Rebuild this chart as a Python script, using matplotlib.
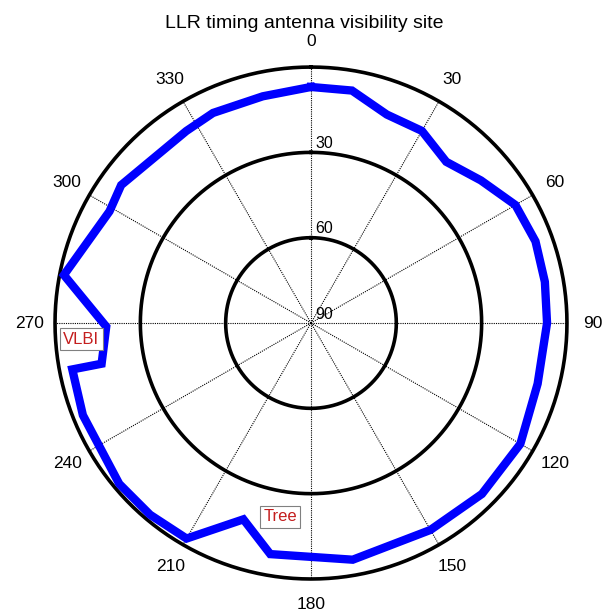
import numpy as np
import matplotlib
matplotlib.use('Agg')
import matplotlib.pyplot as plt

plt.rcParams['font.family'] = ['Liberation Sans', 'DejaVu Sans']

# horizon mask: azimuth (deg, clockwise from north) and elevation (deg)
azimuth = [0, 10, 20, 30, 40, 50, 60, 70, 80, 90, 105, 120, 135, 150, 170,
           190, 199, 210, 220, 230, 248, 259, 259, 269, 281, 299, 306, 327,
           335, 348, 360]
elevation = [7, 7, 12, 12, 16, 12, 7, 6, 6.5, 7, 7.5, 5, 5, 6, 5.5,
             7.5, 17, 2.5, 2, 2, 3.5, 4.5, 15, 18, 1.5, 9, 7.5, 9.5,
             8.5, 8.5, 7]

elev_rings = [30, 60, 90]
elev_ring_labels = ['30', '60', '90']
az_ticks = [0, 30, 60, 90, 120, 150, 180, 210, 240, 270, 300, 330]
title = 'LLR timing antenna visibility site'
notes = [('VLBI', 266, 9), ('Tree', 189, 21)]

fig = plt.figure(figsize=(6.08, 6.15), dpi=100)
ax = fig.add_axes([0.0905, 0.0585, 0.842, 0.8325], projection='polar')
ax.set_theta_zero_location('N')
ax.set_theta_direction(-1)
ax.set_rlim(0, 90)
ax.grid(False)
ax.set_xticks([])
ax.set_yticks([])
ax.spines['polar'].set_visible(False)

# rings (radius = 90 - elevation)
t = np.linspace(0, 2 * np.pi, 361)
for el in [0, 30, 60]:
    ax.plot(t, np.full_like(t, 90 - el), color='black', lw=2.6, zorder=2,
            clip_on=False)

# dotted spokes
for a in az_ticks:
    th = np.deg2rad(a)
    ax.plot([th, th], [0, 90], color='black', lw=0.8, ls=(0, (1, 1)), zorder=1)

# azimuth labels
for a in az_ticks:
    ax.text(np.deg2rad(a), 99, str(a), ha='center', va='center',
            fontsize=12.5, clip_on=False)

# elevation labels on the north spoke
for el, lab in zip(elev_rings, elev_ring_labels):
    ax.annotate(lab, xy=(0, 90 - el), xytext=(3, 1), textcoords='offset points',
                ha='left', va='bottom', fontsize=11.5)

th = np.deg2rad(azimuth)
r = 90 - np.array(elevation)
ax.plot(th, r, color=(0, 0, 1), lw=6, solid_joinstyle='miter', zorder=3,
        clip_on=False)

for txt, a, el in notes:
    ax.text(np.deg2rad(a), 90 - el, txt, ha='center', va='center',
            fontsize=12, color='#c41e1e', zorder=4,
            bbox=dict(boxstyle='square,pad=0.2', fc='white', ec='#808080', lw=0.8))

fig.text(0.5, 0.962, title, ha='center', va='center', fontsize=14)

fig.savefig('out.png', dpi=100)
